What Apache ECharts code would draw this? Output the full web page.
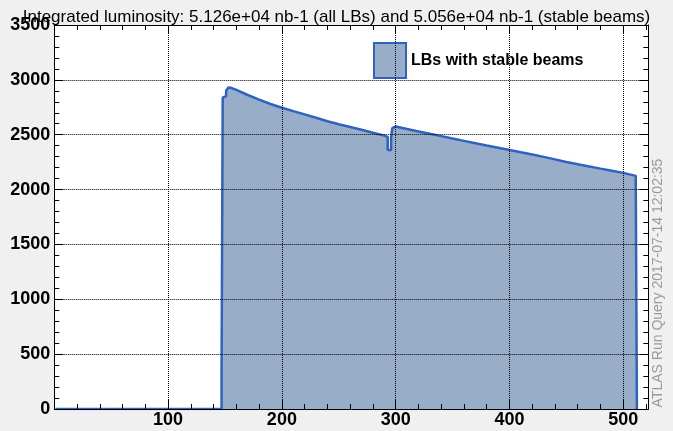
<!DOCTYPE html>
<html>
<head>
<meta charset="utf-8">
<script src="https://cdn.jsdelivr.net/npm/echarts@6/dist/echarts.min.js"></script>
<style>
html,body{margin:0;padding:0;background:#f0f0f0;}
#c{width:673px;height:431px;}
</style>
</head>
<body>
<div id="c"></div>
<script>
// Luminosity block number (x) and instantaneous luminosity (y)
var lbNumbers = [1,147,147,148,148,151,151,153,156,160,170,180,190,200,210,220,230,240,250,260,270,280,290,293,293,296,296,297,297,300,310,320,330,340,350,360,370,380,390,400,410,420,430,440,450,460,470,480,490,500,511,511,512,512];
var lumiValues = [0,0,350,350,2840,2850,2900,2930,2925,2908,2862,2820,2780,2746,2715,2685,2655,2623,2595,2570,2545,2518,2492,2480,2360,2360,2480,2480,2560,2575,2552,2530,2508,2487,2465,2444,2423,2402,2382,2361,2340,2320,2298,2275,2252,2231,2211,2191,2172,2152,2125,2010,2010,0];
var xTicks = [100,200,300,400,500];
var yTicks = [0,500,1000,1500,2000,2500,3000,3500];
var titleText = 'Integrated luminosity: 5.126e+04 nb-1 (all LBs) and 5.056e+04 nb-1 (stable beams)';
var seriesName = 'LBs with stable beams';
var stampText = 'ATLAS Run Query 2017-07-14 12:02:35';

var pts = lbNumbers.map(function(x,i){return [x, lumiValues[i]];});
var FONT = '"Liberation Sans", Arial, Helvetica, sans-serif';
var lineColor = '#2f62c2';
var fillColor = '#98aec8';

function axisBase(showLabel){
  return {
    z:5,
    axisLine:{show:true,onZero:false,lineStyle:{color:'#000',width:1}},
    axisTick:{show:true,inside:true,length:9,lineStyle:{color:'#000',width:1,opacity:1}},
    minorTick:{show:true,splitNumber:5,length:5,lineStyle:{color:'#000',width:1,opacity:1}},
    axisLabel:{show:showLabel,fontFamily:FONT,fontSize:18,fontWeight:'bold',color:'#000'},
    splitLine:{show:false}
  };
}

var xBottom = Object.assign(axisBase(true), {type:'value',position:'bottom',min:0,max:522,interval:100,gridIndex:0});
xBottom.axisLabel.margin = 2;
xBottom.axisLabel.formatter = function(v){return xTicks.indexOf(v)>=0 ? String(v) : '';};
xBottom.splitLine = {show:true,showMinLine:false,showMaxLine:false,lineStyle:{color:'#000',type:'dotted',width:1}};
var xTop = Object.assign(axisBase(false), {type:'value',position:'top',min:0,max:522,interval:100,gridIndex:0});

var yLeft = Object.assign(axisBase(true), {type:'value',position:'left',min:0,max:3500,interval:500,gridIndex:0});
yLeft.axisLabel.margin = 4;
yLeft.axisLabel.formatter = function(v){return yTicks.indexOf(v)>=0 ? String(v) : '';};
yLeft.splitLine = {show:true,showMinLine:false,showMaxLine:false,lineStyle:{color:'#000',type:'dotted',width:1}};
var yRight = Object.assign(axisBase(false), {type:'value',position:'right',min:0,max:3500,interval:500,gridIndex:0});

var chart = echarts.init(document.getElementById('c'), null, {renderer:'canvas'});
chart.setOption({
  animation:false,
  backgroundColor:'#f0f0f0',
  title:{text:titleText,left:'center',top:4,z:10,textStyle:{fontFamily:FONT,fontSize:17,fontWeight:'normal',color:'#000'}},
  grid:{left:54.3,right:24.7,top:25,bottom:22,show:false,containLabel:false},
  xAxis:[xBottom,xTop],
  yAxis:[yLeft,yRight],
  legend:{
    left:368,top:37,itemWidth:32,itemHeight:35,
    textStyle:{fontFamily:FONT,fontSize:16,fontWeight:'bold',color:'#000'},
    data:[{name:seriesName,icon:'rect',itemStyle:{color:fillColor,borderColor:lineColor,borderWidth:2}}]
  },
  series:[{
    name:seriesName,type:'line',xAxisIndex:0,yAxisIndex:0,
    data:pts,showSymbol:false,symbol:'none',
    lineStyle:{color:lineColor,width:2.5},
    itemStyle:{color:fillColor},
    areaStyle:{color:fillColor,opacity:1},
    z:2
  }],
  graphic:[{
    type:'rect',z:-10,silent:true,
    shape:{x:54.3,y:25,width:594,height:384},
    style:{fill:'#fff'}
  },{
    type:'text',x:658,y:283,rotation:Math.PI/2,
    style:{text:stampText,font:'14px '+FONT,fill:'#9a9a9a',textAlign:'center',textVerticalAlign:'middle'}
  }]
});
</script>
</body>
</html>
